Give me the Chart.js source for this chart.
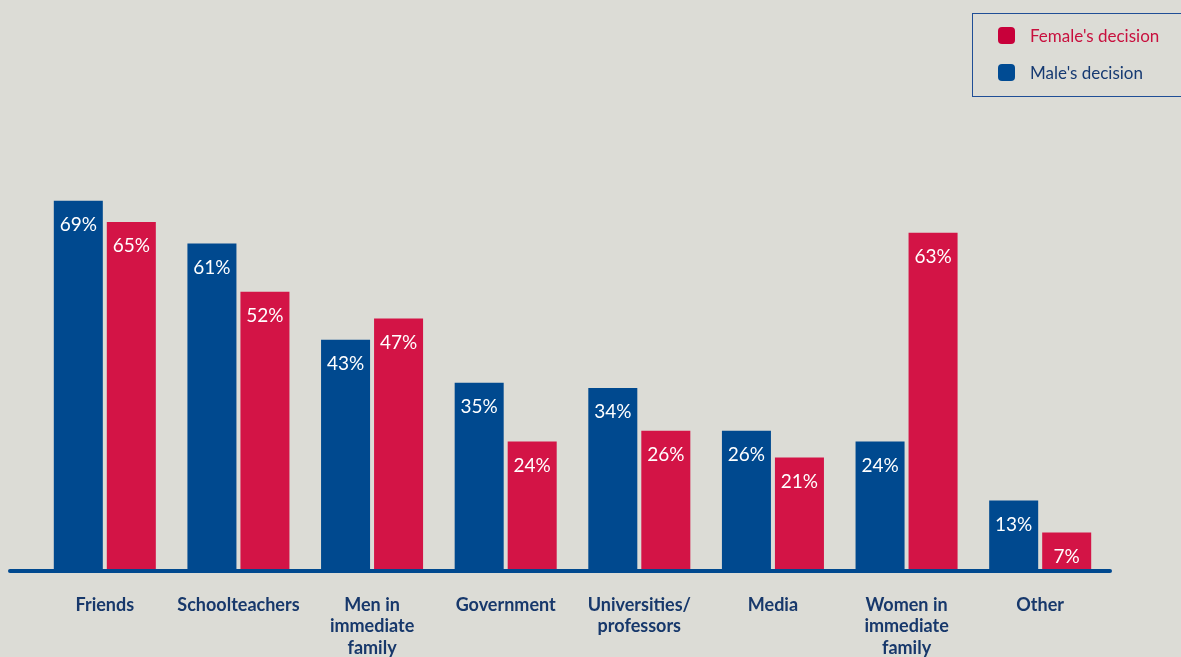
<!DOCTYPE html>
<html>
<head>
<meta charset="utf-8">
<script src="https://cdn.jsdelivr.net/npm/chart.js@4"></script>
<style>
  html, body { margin: 0; padding: 0; background: #dcdcd6; }
  #wrap { position: relative; width: 1181px; height: 657px; overflow: hidden; }
  canvas { display: block; }
  #legend {
    position: absolute; left: 972px; top: 13px; width: 220px; height: 84px;
    border: 1.5px solid #1f4e96; box-sizing: border-box;
    font-family: Lato, "Open Sans", sans-serif; font-size: 17px;
  }
  .item { position: absolute; left: 25px; display: flex; align-items: center; }
  .sw { width: 17px; height: 17px; border-radius: 4px; margin-right: 15px; }
</style>
</head>
<body>
<div id="wrap">
  <canvas id="c" width="1181" height="657"></canvas>
  <div id="legend">
    <div class="item" style="top:11px;color:#c8103e;"><span class="sw" style="background:#c8003a"></span>Female's decision</div>
    <div class="item" style="top:48px;color:#163a72;"><span class="sw" style="background:#004b93"></span>Male's decision</div>
  </div>
</div>
<script>
const categories = [
  "Friends", "Schoolteachers", ["Men in", "immediate", "family"], "Government",
  ["Universities/", "professors"], "Media", ["Women in", "immediate", "family"], "Other"
];
const maleValues = [69, 61, 43, 35, 34, 26, 24, 13];
const femaleValues = [65, 52, 47, 24, 26, 21, 63, 7];
const seriesNames = ["Male's decision", "Female's decision"];

const BLUE = "#00498f";
const RED = "#d31446";

const labelPlugin = {
  id: "barLabels",
  afterDatasetsDraw(chart) {
    const ctx = chart.ctx;
    ctx.save();
    ctx.fillStyle = "#ffffff";
    ctx.font = "19px Lato, 'Open Sans', sans-serif";
    ctx.textAlign = "center";
    ctx.textBaseline = "middle";
    chart.data.datasets.forEach((ds, di) => {
      const meta = chart.getDatasetMeta(di);
      meta.data.forEach((bar, i) => {
        ctx.fillText(ds.data[i] + "%", bar.x, bar.y + 24);
      });
    });
    ctx.restore();
  }
};

const baselinePlugin = {
  id: "baseline",
  afterDatasetsDraw(chart) {
    const ctx = chart.ctx;
    const y = chart.scales.y.getPixelForValue(0) + 1;
    ctx.save();
    ctx.strokeStyle = BLUE;
    ctx.lineWidth = 4;
    ctx.lineCap = "round";
    ctx.beginPath();
    ctx.moveTo(10, y);
    ctx.lineTo(1110, y);
    ctx.stroke();
    ctx.restore();
  }
};

new Chart(document.getElementById("c"), {
  type: "bar",
  data: {
    labels: categories,
    datasets: [
      { label: seriesNames[0], data: maleValues, backgroundColor: BLUE },
      { label: seriesNames[1], data: femaleValues, backgroundColor: RED }
    ]
  },
  options: {
    responsive: false,
    animation: false,
    devicePixelRatio: 1,
    categoryPercentage: 106 / 133.6,
    barPercentage: 49 / 53,
    layout: { padding: { left: 38, right: 74, top: 99, bottom: 0 } },
    plugins: { legend: { display: false }, tooltip: { enabled: false } },
    scales: {
      x: {
        grid: { display: false, drawTicks: false },
        border: { display: false },
        ticks: {
          color: "#17386b",
          padding: 24,
          maxRotation: 0,
          autoSkip: false,
          font: { family: "Lato, 'Open Sans', sans-serif", size: 18, weight: "bold", lineHeight: 1.2 }
        },
        afterFit(scale) { scale.height = 87; }
      },
      y: {
        display: false,
        min: 0,
        max: 88
      }
    }
  },
  plugins: [labelPlugin, baselinePlugin]
});
</script>
</body>
</html>
